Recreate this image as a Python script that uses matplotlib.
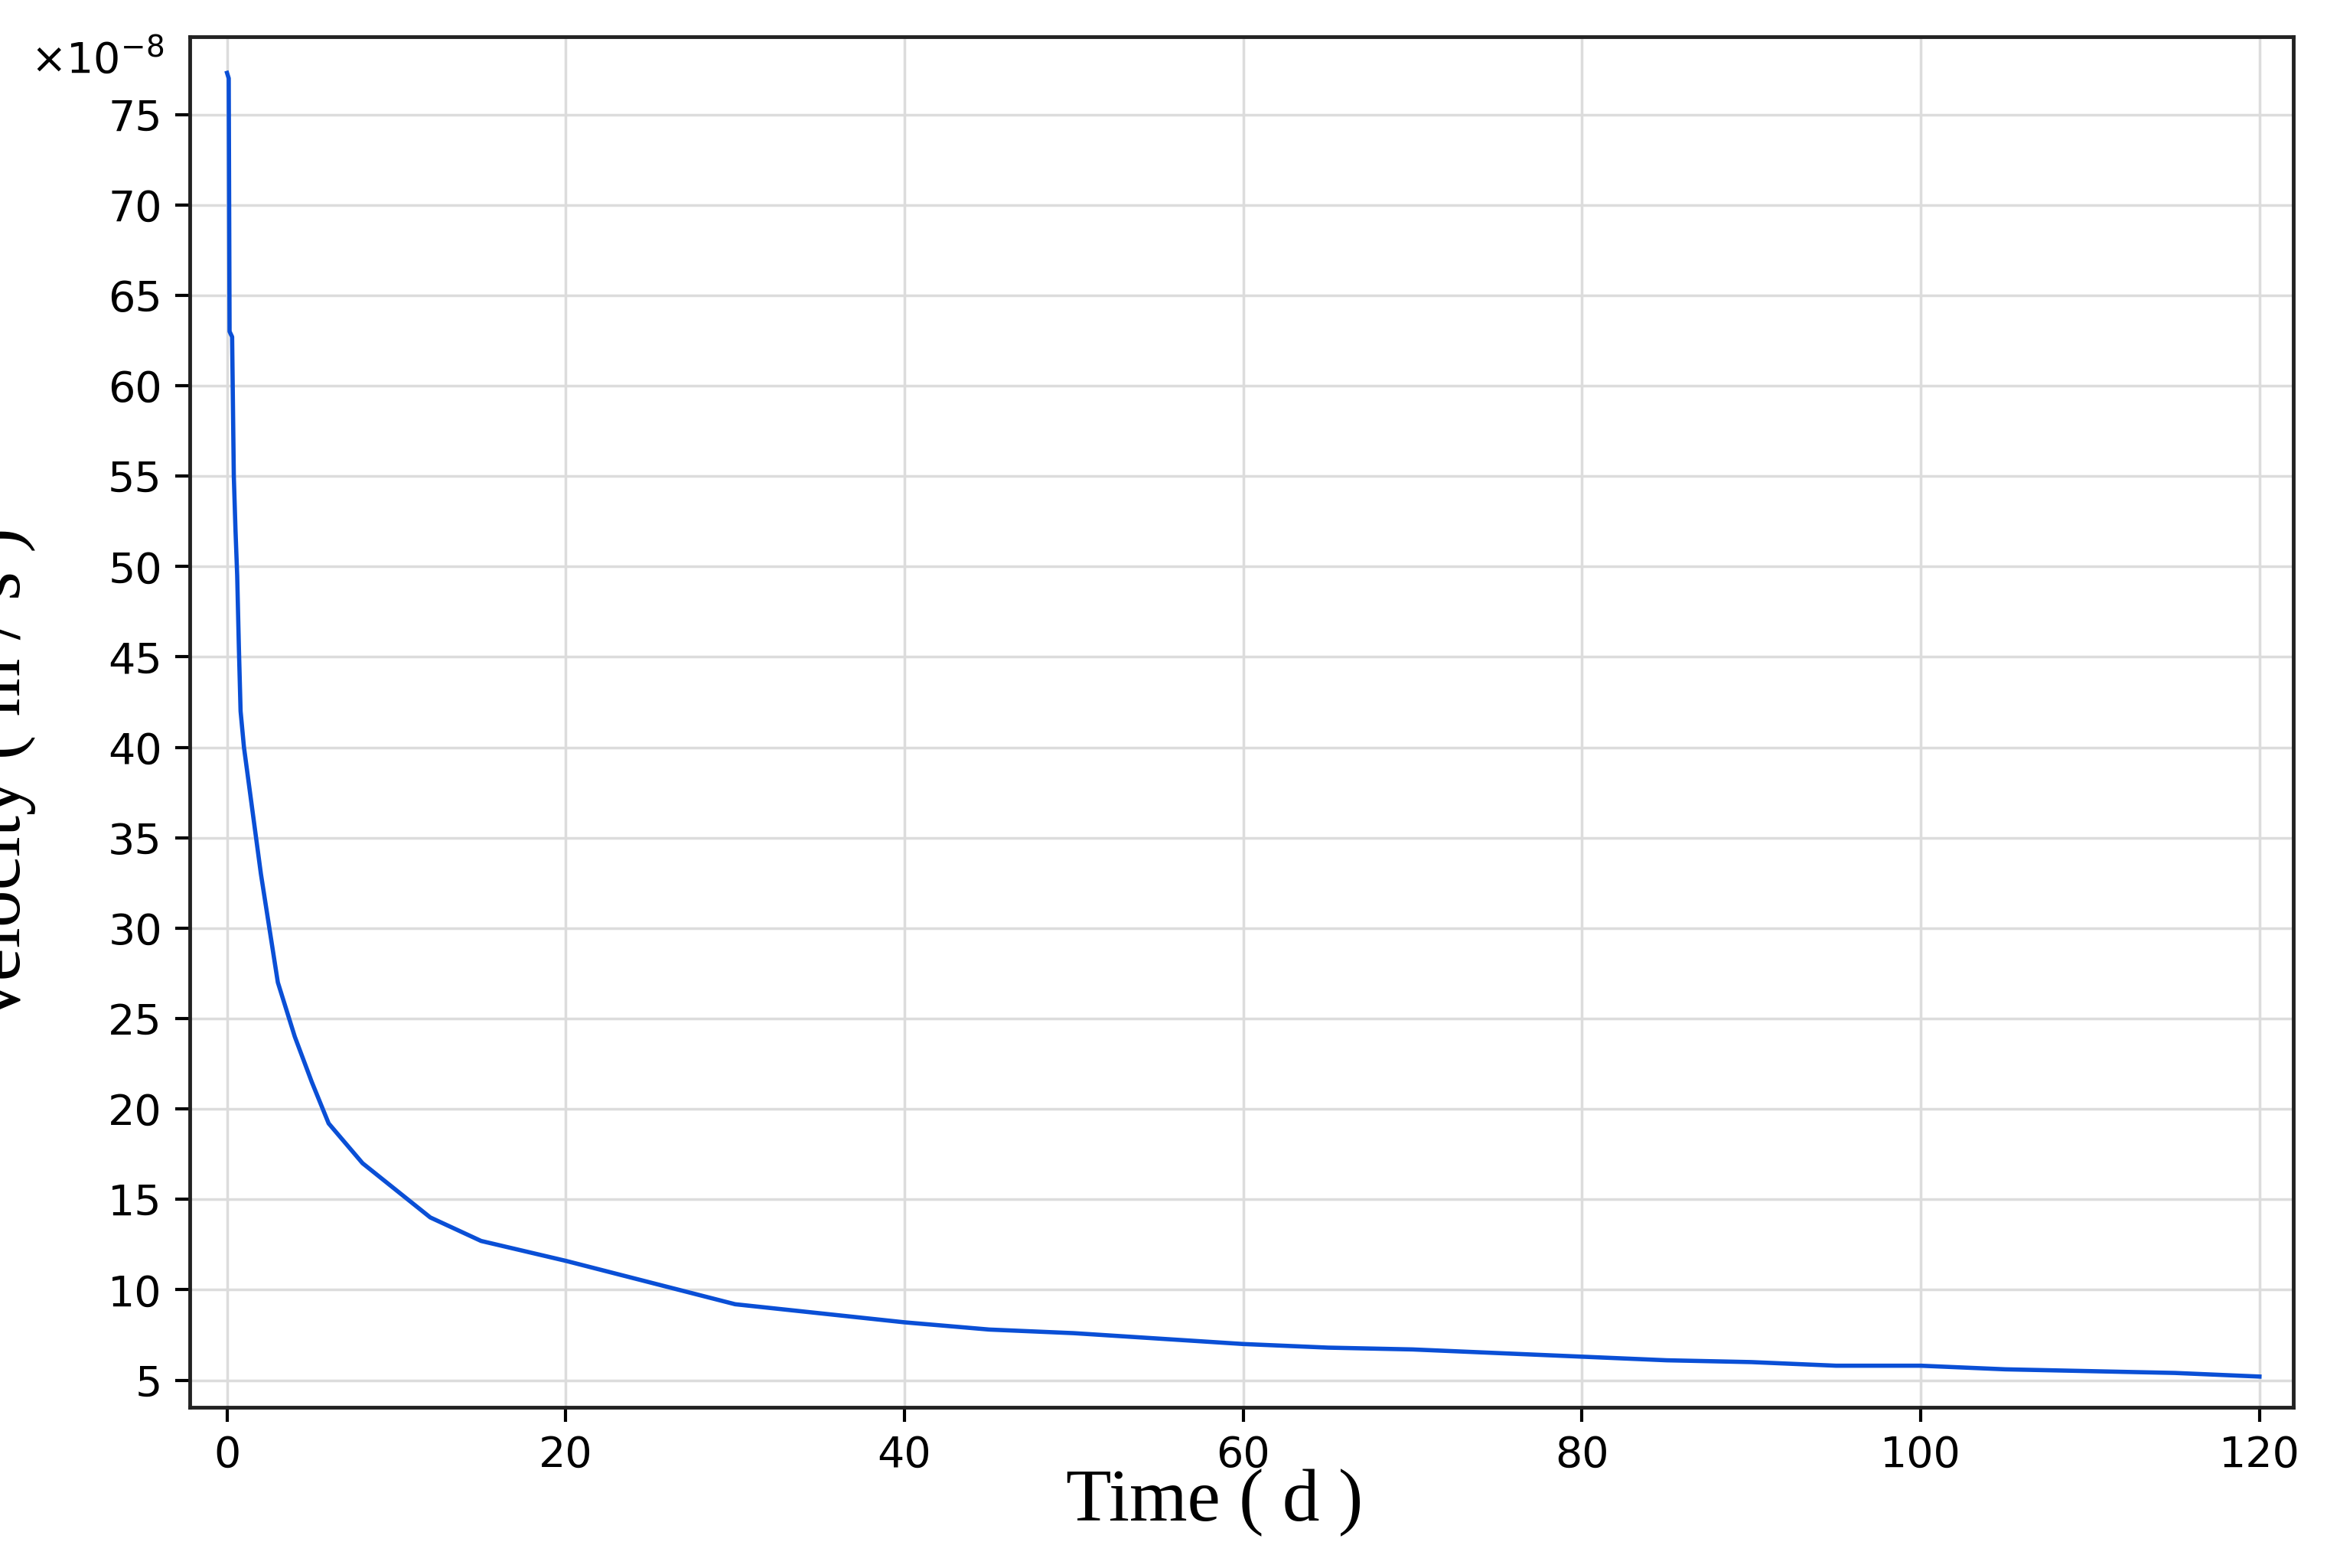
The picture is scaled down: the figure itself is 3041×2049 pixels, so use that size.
import matplotlib
matplotlib.use("Agg")
import matplotlib.pyplot as plt

# time (d) and velocity (x1e-8 m/s)
time_d = [0, 0.1, 0.15, 0.3, 0.4, 0.5, 0.6, 0.7, 0.8, 1, 2, 3, 4, 5, 6, 8, 10, 12,
          15, 20, 25, 30, 35, 40, 45, 50, 55, 60, 65, 70, 75, 80, 85, 90, 95,
          100, 105, 110, 115, 120]
velocity = [77.3, 77.0, 63.0, 62.7, 55.0, 52.0, 49.5, 45.5, 42.0, 40.0, 33.0, 27.0,
            24.0, 21.5, 19.2, 17.0, 15.5, 14.0, 12.7, 11.6, 10.4, 9.2, 8.7, 8.2,
            7.8, 7.6, 7.3, 7.0, 6.8, 6.7, 6.5, 6.3, 6.1, 6.0, 5.8, 5.8, 5.6, 5.5,
            5.4, 5.2]
x_ticks = [0, 20, 40, 60, 80, 100, 120]
y_ticks = list(range(5, 80, 5))

fig = plt.figure(figsize=(30.41, 20.49), dpi=100)
ax = fig.add_axes([248 / 3041, 1 - 1839 / 2049, (2997 - 248) / 3041, (1839 - 48) / 2049])

ax.plot(time_d, velocity, color="#0a4fd6", lw=4)
ax.set_xlim(-2.2, 122.0)
ax.set_ylim(3.5, 79.3)
ax.set_xticks(x_ticks)
ax.set_yticks(y_ticks)
ax.grid(True, color="#dcdcdc", lw=2.5)
ax.tick_params(labelsize=40, width=3, length=14, pad=12)
for s in ax.spines.values():
    s.set_linewidth(3.5)
    s.set_color("#222222")

ax.set_xlabel("Time ( d )", family="Liberation Serif", fontsize=70)
ax.set_ylabel("Velocity ( m / s )", family="Liberation Serif", fontsize=70)
ax.xaxis.set_label_coords(0.487, -0.045, transform=ax.transAxes)
ax.yaxis.set_label_coords(-0.073, 0.46, transform=ax.transAxes)
fig.text(40 / 3041, 1 - 95 / 2049, r"$\times10^{-8}$", fontsize=40)

fig.savefig("out.png", dpi=100)
